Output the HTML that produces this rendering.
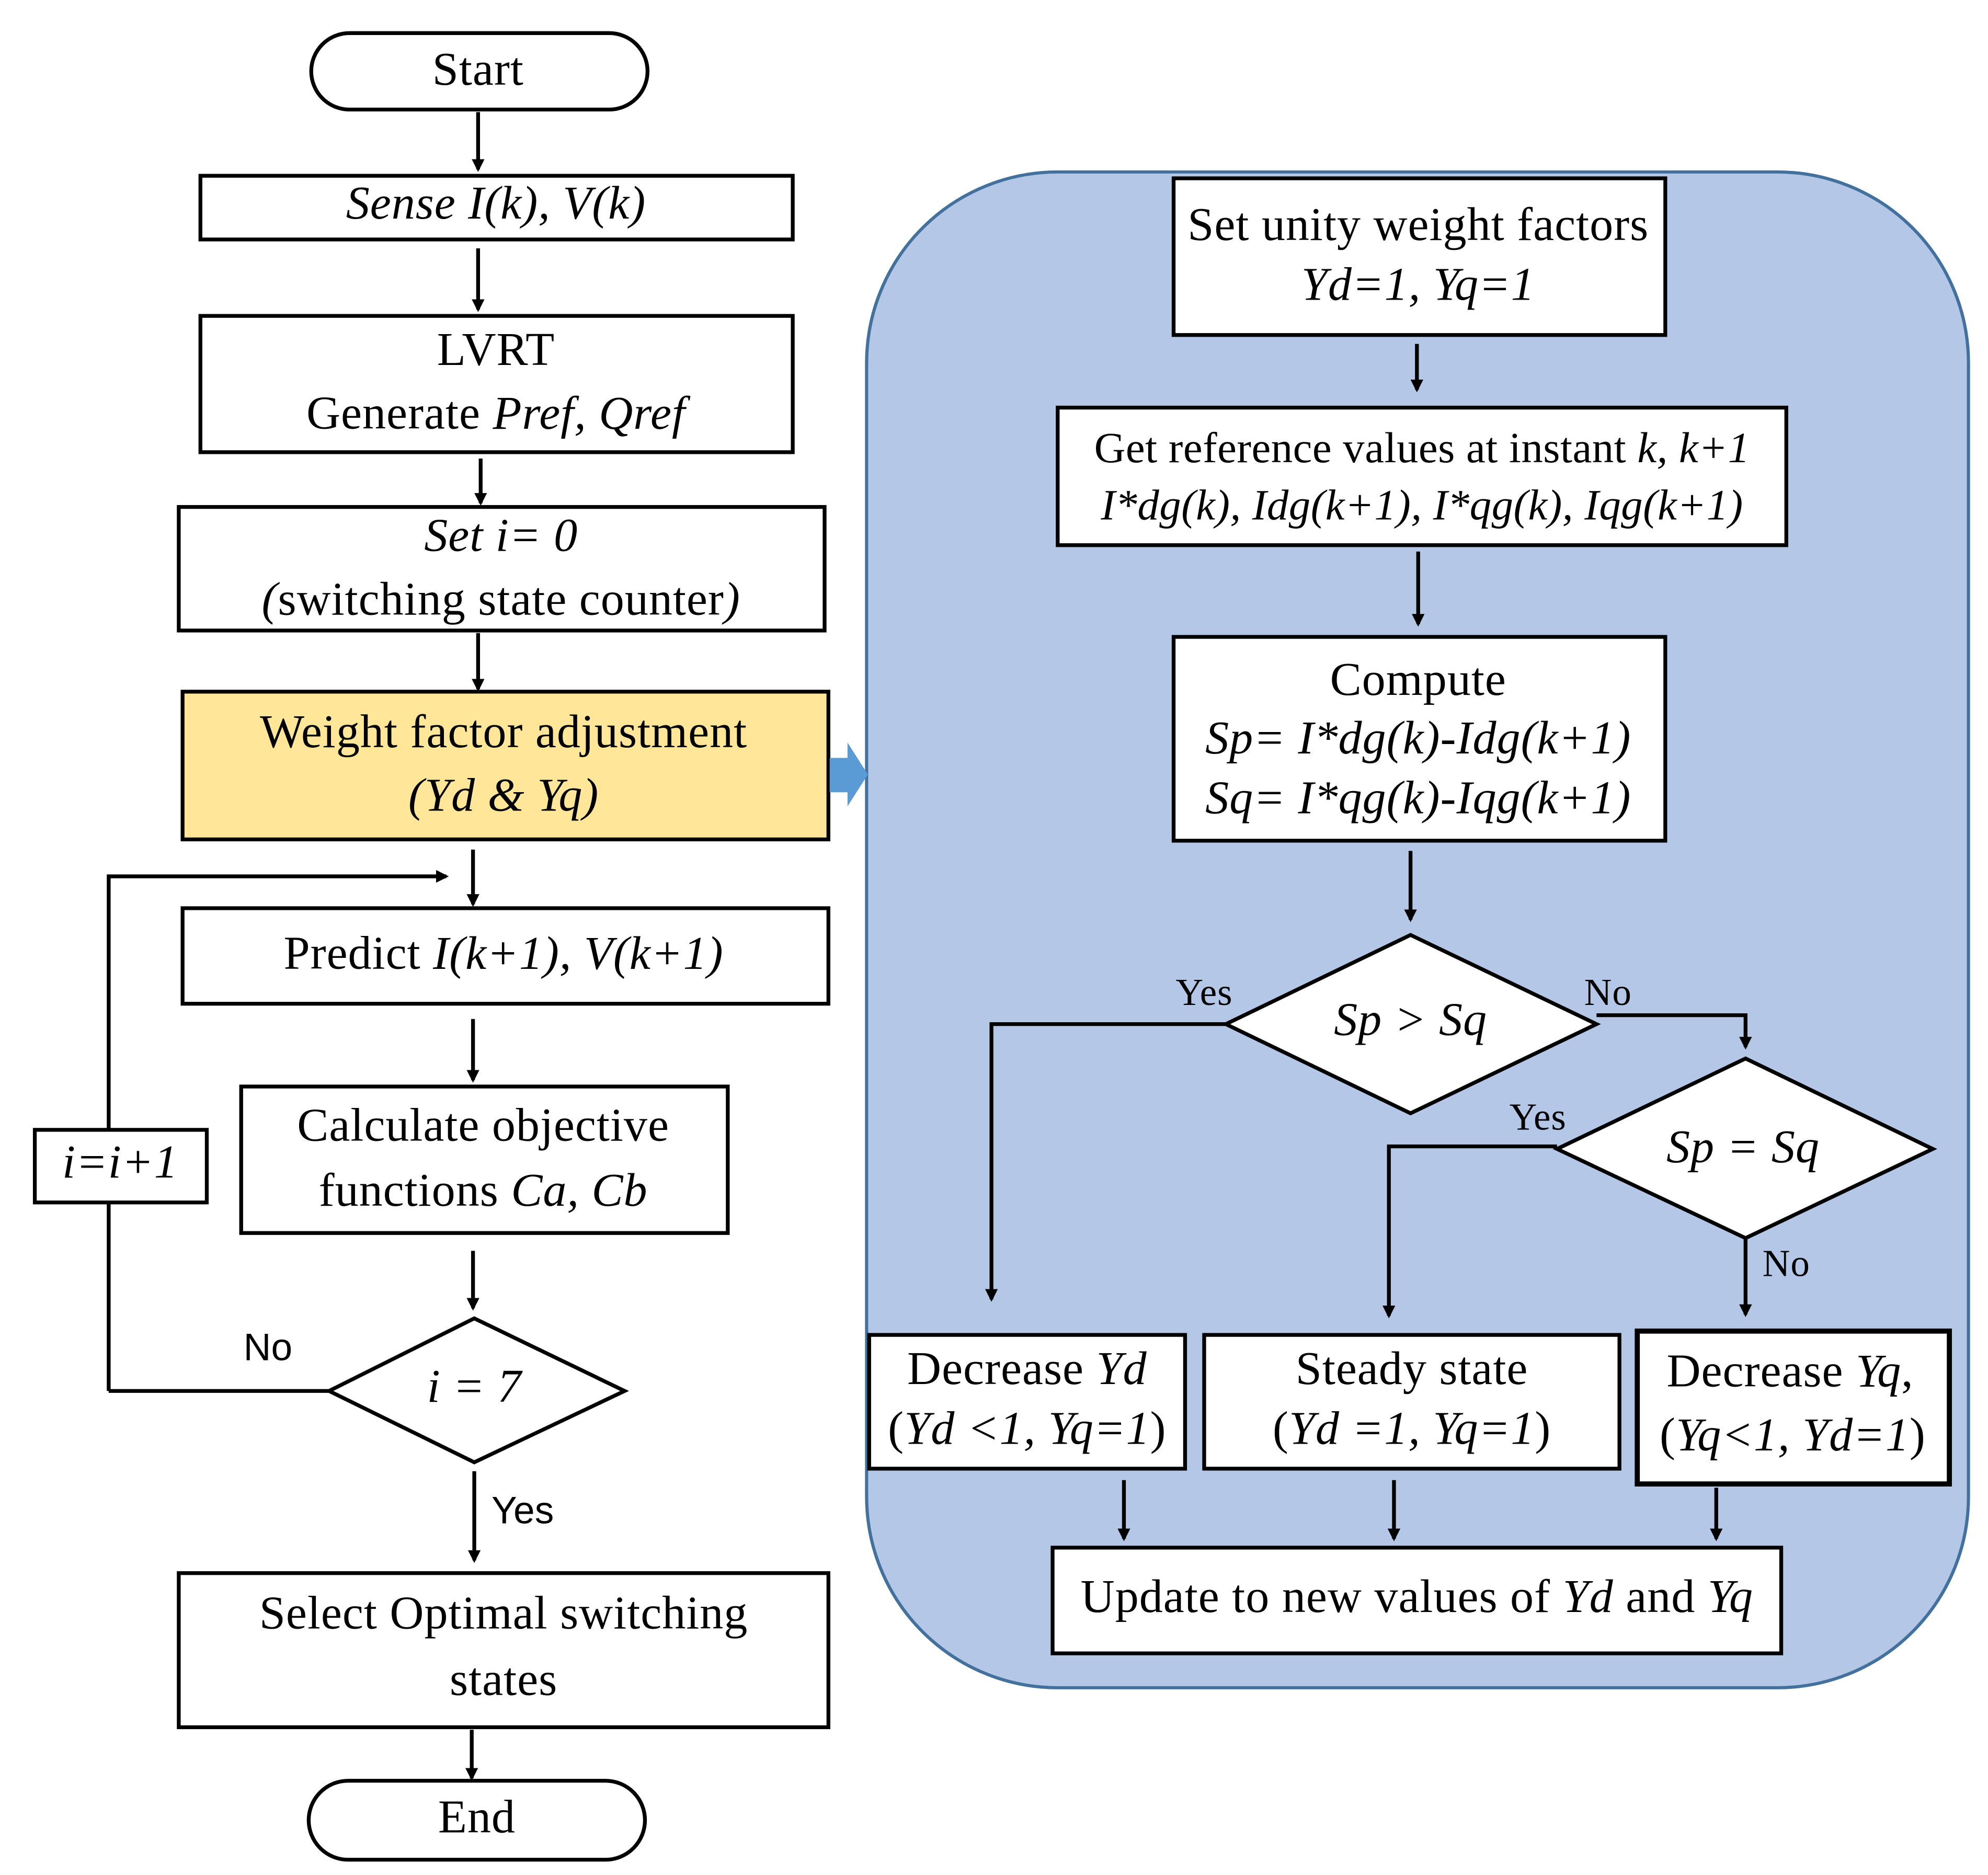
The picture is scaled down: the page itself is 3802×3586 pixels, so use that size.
<!DOCTYPE html>
<html><head><meta charset="utf-8"><style>
html,body{margin:0;padding:0;background:#fff;}
svg{display:block}
text{font-family:"Liberation Serif",serif;font-size:37px;letter-spacing:0.4px;fill:#000;text-anchor:middle;dominant-baseline:middle}
.s{font-family:"Liberation Sans",sans-serif;font-size:30px;letter-spacing:0}
.y{font-size:30px}
.g{font-size:34px;letter-spacing:0.2px}
.i{font-style:italic}
</style></head><body>
<svg width="3802" height="3586" viewBox="0 0 1560 1472" xmlns="http://www.w3.org/2000/svg">
<defs><marker id="a" markerWidth="10" markerHeight="10" refX="8" refY="5" orient="auto" markerUnits="userSpaceOnUse"><path d="M0,0 L10,5 L0,10 z" fill="#000"/></marker></defs>
<rect width="1560" height="1472" fill="#fff"/>
<g fill="none" stroke="#000" stroke-width="3">
<rect x="680" y="135" width="865" height="1190" rx="150" fill="#b4c7e7" stroke="#41719c" stroke-width="2.5"/>
<rect x="244" y="26" width="264" height="60" rx="30" fill="#fff"/>
<rect x="157" y="138" width="465" height="50" fill="#fff"/>
<rect x="157" y="248" width="465" height="107" fill="#fff"/>
<rect x="140" y="398" width="507" height="97" fill="#fff"/>
<rect x="143" y="543" width="507" height="116" fill="#ffe699"/>
<rect x="143" y="713" width="507" height="75" fill="#fff"/>
<rect x="189" y="853" width="382" height="115" fill="#fff"/>
<polyline points="85,1092 85,688 350,688" marker-end="url(#a)"/>
<line x1="85" y1="1092" x2="258" y2="1092"/>
<rect x="27" y="887" width="135" height="57" fill="#fff"/>
<polygon points="258,1092 372,1035 490,1092 372,1148" fill="#fff"/>
<rect x="140" y="1235" width="510" height="121" fill="#fff"/>
<rect x="242" y="1398" width="264" height="62" rx="31" fill="#fff"/>
<line x1="375" y1="88" x2="375" y2="133" marker-end="url(#a)"/>
<line x1="375" y1="195" x2="375" y2="243" marker-end="url(#a)"/>
<line x1="377" y1="360" x2="377" y2="395" marker-end="url(#a)"/>
<line x1="375" y1="497" x2="375" y2="541" marker-end="url(#a)"/>
<line x1="371" y1="667" x2="371" y2="710" marker-end="url(#a)"/>
<line x1="371" y1="800" x2="371" y2="848" marker-end="url(#a)"/>
<line x1="371" y1="982" x2="371" y2="1027" marker-end="url(#a)"/>
<line x1="372" y1="1155" x2="372" y2="1225" marker-end="url(#a)"/>
<line x1="370" y1="1358" x2="370" y2="1396" marker-end="url(#a)"/>
<rect x="921" y="140" width="386" height="123" fill="#fff"/>
<rect x="830" y="320" width="572" height="108" fill="#fff"/>
<rect x="921" y="500" width="386" height="160" fill="#fff"/>
<polygon points="962,804 1107,734 1253,804 1107,874" fill="#fff"/>
<polygon points="1222,902 1370,831 1517,902 1370,972" fill="#fff"/>
<rect x="682" y="1048" width="248" height="105" fill="#fff"/>
<rect x="945" y="1048" width="326" height="105" fill="#fff"/>
<rect x="1285" y="1045" width="245" height="120" fill="#fff" stroke-width="4"/>
<rect x="826" y="1215" width="572" height="83" fill="#fff"/>
<line x1="1112" y1="270" x2="1112" y2="306" marker-end="url(#a)"/>
<line x1="1113" y1="433" x2="1113" y2="490" marker-end="url(#a)"/>
<line x1="1107" y1="668" x2="1107" y2="722" marker-end="url(#a)"/>
<polyline points="962,804 778,804 778,1020" marker-end="url(#a)"/>
<polyline points="1253,797 1370,797 1370,822" marker-end="url(#a)"/>
<polyline points="1222,900 1090,900 1090,1033" marker-end="url(#a)"/>
<line x1="1370" y1="972" x2="1370" y2="1032" marker-end="url(#a)"/>
<line x1="882" y1="1162" x2="882" y2="1208" marker-end="url(#a)"/>
<line x1="1094" y1="1162" x2="1094" y2="1208" marker-end="url(#a)"/>
<line x1="1347" y1="1168" x2="1347" y2="1208" marker-end="url(#a)"/>
</g>
<polygon points="651,595 665,595 665,583 681,608 665,633 665,622 651,622" fill="#5b9bd5"/>
<text x="375" y="58">Start</text>
<text x="389" y="163" class="i">Sense I(k), V(k)</text>
<text x="389" y="278">LVRT</text>
<text x="389" y="328">Generate <tspan class="i">Pref, Qref</tspan></text>
<text x="393" y="424" class="i">Set i= 0</text>
<text x="393" y="474"><tspan class="i">(</tspan>switching state counter<tspan class="i">)</tspan></text>
<text x="395" y="578">Weight factor adjustment</text>
<text x="395" y="628" class="i">(Yd &amp; Yq)</text>
<text x="395" y="752">Predict <tspan class="i">I(k+1), V(k+1)</tspan></text>
<text x="379" y="887">Calculate objective</text>
<text x="379" y="938">functions <tspan class="i">Ca, Cb</tspan></text>
<text x="94" y="916" class="i">i=i+1</text>
<text x="372" y="1092" class="i">i = 7</text>
<text x="210" y="1060" class="s">No</text>
<text x="410" y="1188" class="s">Yes</text>
<text x="395" y="1270">Select Optimal switching</text>
<text x="395" y="1322">states</text>
<text x="374" y="1430">End</text>
<text x="1113" y="180">Set unity weight factors</text>
<text x="1113" y="227" class="i">Yd=1, Yq=1</text>
<text x="1116" y="355" class="g">Get reference values at instant <tspan class="i">k, k+1</tspan></text>
<text x="1116" y="400" class="g i">I*dg(k), Idg(k+1), I*qg(k), Iqg(k+1)</text>
<text x="1113" y="537">Compute</text>
<text x="1113" y="583" class="i">Sp= I*dg(k)-Idg(k+1)</text>
<text x="1113" y="630" class="i">Sq= I*qg(k)-Iqg(k+1)</text>
<text x="1107" y="804" class="i">Sp &gt; Sq</text>
<text x="1368" y="904" class="i">Sp = Sq</text>
<text x="945" y="782" class="y">Yes</text>
<text x="1262" y="782" class="y">No</text>
<text x="1207" y="880" class="y">Yes</text>
<text x="1402" y="995" class="y">No</text>
<text x="806" y="1078">Decrease <tspan class="i">Yd</tspan></text>
<text x="806" y="1125">(<tspan class="i">Yd &lt;1, Yq=1</tspan>)</text>
<text x="1108" y="1078">Steady state</text>
<text x="1108" y="1125">(<tspan class="i">Yd =1, Yq=1</tspan>)</text>
<text x="1405" y="1080">Decrease <tspan class="i">Yq</tspan>,</text>
<text x="1407" y="1130">(<tspan class="i">Yq&lt;1, Yd=1</tspan>)</text>
<text x="1112" y="1257">Update to new values of <tspan class="i">Yd</tspan> and <tspan class="i">Yq</tspan></text>
</svg>
</body></html>
